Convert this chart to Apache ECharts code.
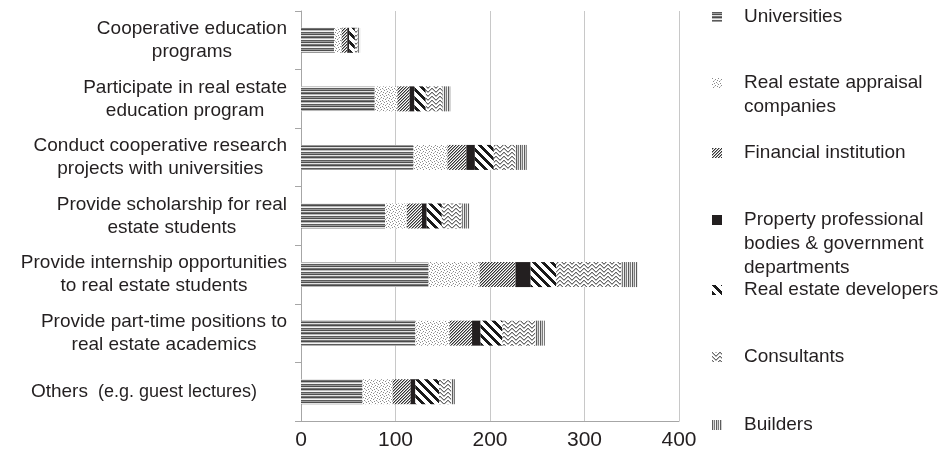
<!DOCTYPE html>
<html>
<head>
<meta charset="utf-8">
<style>
  html, body { margin: 0; padding: 0; background: #fff; }
  #chart { width: 949px; height: 458px; }
</style>
<script src="https://cdn.jsdelivr.net/npm/echarts@6/dist/echarts.min.js"></script>
</head>
<body>
<div id="chart"></div>
<script>
// Engagement activities by organisation type (number of responses)
const categories = [
  'Cooperative education\nprograms',
  'Participate in real estate\neducation program',
  'Conduct cooperative research\nprojects with universities',
  'Provide scholarship for real\nestate students',
  'Provide internship opportunities\nto real estate students',
  'Provide part-time positions to\nreal estate academics',
  'Others|(e.g. guest lectures)'
];

const seriesNames = [
  'Universities',
  'Real estate appraisal\ncompanies',
  'Financial institution',
  'Property professional\nbodies & government\ndepartments',
  'Real estate developers',
  'Consultants',
  'Builders'
];

const universities = [35, 78, 119, 89, 135, 121, 65];
const appraisal    = [8, 24, 36, 23, 54, 36, 32];
const financial    = [6, 13, 20, 16, 38, 24, 19];
const propertyBodies = [2, 5, 9, 5, 16, 9, 5];
const developers   = [6, 12, 20, 16, 27, 23, 25];
const consultants  = [3, 18, 23, 21, 69, 35, 13];
const builders     = [2.5, 8, 12, 8, 17, 10, 4];

const xTicks = [0, 100, 200, 300, 400];

const FONT = '"Liberation Sans", Arial, Helvetica, sans-serif';
const TEXT = '#231f20';

// ---- fill patterns drawn on small canvases ----
function tile(w, h, draw) {
  const c = document.createElement('canvas');
  c.width = w; c.height = h;
  const ctx = c.getContext('2d');
  ctx.fillStyle = '#ffffff';
  ctx.fillRect(0, 0, w, h);
  draw(ctx, w, h);
  return { image: c, repeat: 'repeat' };
}
function px(ctx, x, y, col) { ctx.fillStyle = col; ctx.fillRect(x, y, 1, 1); }

const patHorizontal = tile(1, 8, (ctx) => {
  const rows = ['#5a5a5a', '#9a9a9a', '#4e4e4e', '#e2e2e2', '#767676', '#4a4a4a', '#b8b8b8', '#f2f2f2'];
  rows.forEach((c, i) => px(ctx, 0, i, c));
});
const patDots = tile(6, 6, (ctx) => {
  [[0,0],[3,1],[5,2],[1,3],[4,4],[2,5]].forEach(p => px(ctx, p[0], p[1], '#8a8a8a'));
  [[2,2],[5,5]].forEach(p => px(ctx, p[0], p[1], '#c8c8c8'));
});
const patFineDiag = tile(6, 6, (ctx) => {
  for (let x = 0; x < 6; x++) for (let y = 0; y < 6; y++) {
    if ((x + y) % 3 === 0) px(ctx, x, y, '#333333');
    else if ((x + y) % 3 === 1) px(ctx, x, y, '#a0a0a0');
  }
});
const patSolid = '#231f20';
const patWideDiag = tile(9, 9, (ctx) => {
  for (let x = 0; x < 9; x++) for (let y = 0; y < 9; y++) {
    const d = ((x - y) % 9 + 9) % 9;
    if (d < 4) px(ctx, x, y, '#1a1a1a');
  }
});
const patWave = tile(8, 4, (ctx) => {
  const ys = [0, 1, 2, 3, 3, 2, 1, 0];
  ys.forEach((y, x) => { px(ctx, x, y, '#6a6a6a'); px(ctx, x, (y + 1) % 4, '#bdbdbd'); });
});
const patVertical = tile(4, 1, (ctx) => {
  ['#5c5c5c', '#d0d0d0', '#7a7a7a', '#f0f0f0'].forEach((c, i) => px(ctx, i, 0, c));
});

const fills = [patHorizontal, patDots, patFineDiag, patSolid, patWideDiag, patWave, patVertical];
const values = [universities, appraisal, financial, propertyBodies, developers, consultants, builders];

// legend: one block per series; leading blank lines keep the icon on the first text line
const legendIconY = [17, 83, 153, 220, 290, 357, 425];
const LH = 24;
const legends = seriesNames.map((name, i) => {
  const n = name.split('\n').length;
  return {
    data: [name],
    left: 712,
    top: legendIconY[i] - (2 * n - 1) * LH / 2,
    padding: 0,
    itemWidth: 10,
    itemHeight: 10,
    icon: 'rect',
    selectedMode: false,
    formatter: (nm) => '\n'.repeat(n - 1) + nm,
    textStyle: {
      fontFamily: FONT, fontSize: 19, color: TEXT, lineHeight: LH,
      padding: [0, 0, 0, 17]
    }
  };
});

const series = seriesNames.map((name, i) => ({
  name: name,
  type: 'bar',
  stack: 'total',
  barWidth: 25,
  data: values[i],
  itemStyle: { color: fills[i] },
  emphasis: { disabled: true }
}));

const chart = echarts.init(document.getElementById('chart'), null, { renderer: 'canvas' });
chart.setOption({
  animation: false,
  backgroundColor: '#ffffff',
  legend: legends,
  grid: { left: 301, right: 270, top: 11, bottom: 37, containLabel: false },
  xAxis: {
    type: 'value',
    min: xTicks[0],
    max: xTicks[xTicks.length - 1],
    interval: 100,
    axisLine: { show: true, lineStyle: { color: '#a6a6a6', width: 1 } },
    axisTick: { show: false },
    splitLine: { show: true, lineStyle: { color: '#c8c8c8', width: 1 } },
    axisLabel: { fontFamily: FONT, fontSize: 21, color: TEXT, margin: 9 }
  },
  yAxis: {
    type: 'category',
    inverse: true,
    data: categories,
    axisLine: { show: true, lineStyle: { color: '#a6a6a6', width: 1 } },
    axisTick: { show: true, length: 6, lineStyle: { color: '#a6a6a6' } },
    axisLabel: {
      margin: 14,
      fontFamily: FONT,
      color: TEXT,
      formatter: (v) => {
        if (v.indexOf('|') >= 0) {
          const parts = v.split('|');
          return '{m|' + parts[0] + '}{s|' + parts[1] + '}';
        }
        return v.split('\n').map(l => '{c|' + l + '}').join('\n');
      },
      rich: {
        c: { align: 'center', fontFamily: FONT, fontSize: 19, lineHeight: 23, color: TEXT },
        m: { fontFamily: FONT, fontSize: 19, lineHeight: 23, color: TEXT, padding: [0, 10, 0, 0] },
        s: { fontFamily: FONT, fontSize: 18, lineHeight: 23, color: TEXT, padding: [0, 30, 0, 0] }
      }
    }
  },
  series: series
});
</script>
</body>
</html>
